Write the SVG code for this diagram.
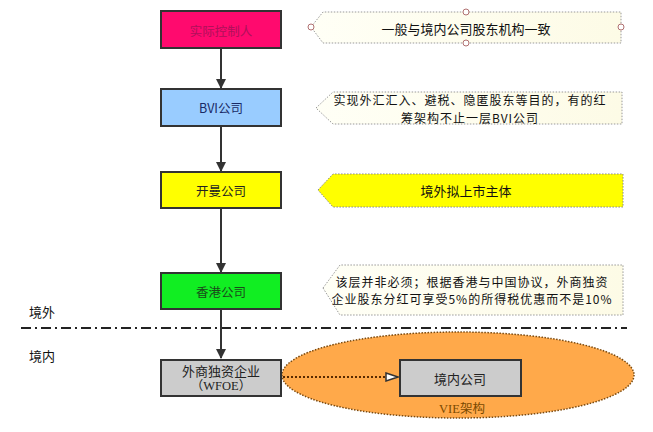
<svg xmlns="http://www.w3.org/2000/svg" width="653" height="432" viewBox="0 0 653 432">
<defs>
<style>
text{font-family:"Noto Sans CJK SC","Liberation Sans",sans-serif;font-size:12.5px;text-anchor:middle;dominant-baseline:central}
.ct{font-size:13px;fill:#111}
.ct2{font-size:12px;letter-spacing:1px;fill:#111}
.box{stroke:#333;stroke-width:2}
.call{fill:url(#cg);stroke:#999;stroke-width:1;stroke-dasharray:1.5 1.5}
.edge{stroke:#333;stroke-width:2;fill:none}
.handle{fill:#fff;stroke:#b07070;stroke-width:1}
</style>
<linearGradient id="cg" x1="0" y1="0" x2="1" y2="0">
<stop offset="0" stop-color="#fffff6"/><stop offset="1" stop-color="#fdfbe6"/>
</linearGradient>
<marker id="ah" markerWidth="10" markerHeight="10" refX="9" refY="5" orient="auto" markerUnits="userSpaceOnUse">
<path d="M0,0 L10,5 L0,10 Z" fill="#333"/>
</marker>
<marker id="ao" markerWidth="14" markerHeight="10" refX="13" refY="5" orient="auto" markerUnits="userSpaceOnUse">
<path d="M1,1 L13,5 L1,9 Z" fill="#fff" stroke="#333" stroke-width="1.5"/>
</marker>
</defs>
<rect width="653" height="432" fill="#fff"/>

<g id="vie">
<ellipse cx="458" cy="375" rx="176" ry="43" fill="#ffa94a" stroke="#7a4a10" stroke-width="1.5" stroke-dasharray="1.5 1.5"/>
<text x="462" y="409" fill="#7a4a00" style="font-family:'Liberation Serif','Noto Sans CJK SC',serif">VIE架构</text>
</g>

<g id="callouts">
<g id="c1">
<path class="call" d="M311,27 L323,12 L621,12 L621,43 L323,43 Z"/>
<circle class="handle" cx="311" cy="27" r="3"/>
<circle class="handle" cx="466" cy="12" r="3"/>
<circle class="handle" cx="466" cy="43" r="3"/>
<circle class="handle" cx="621" cy="27" r="3"/>
<text class="ct" x="466" y="28">一般与境内公司股东机构一致</text>
</g>
<g id="c2">
<path class="call" d="M316,108 L333,92 L622,92 L622,124 L333,124 Z"/>
<text class="ct2" x="470" y="99.5">实现外汇汇入、避税、隐匿股东等目的，有的红</text>
<text class="ct2" x="470" y="117">筹架构不止一层BVI公司</text>
</g>
<g id="c3">
<path d="M318,190 L333,174 L623,174 L623,207 L333,207 Z" fill="#ffff00" stroke="#888" stroke-width="1" stroke-dasharray="1.5 1.5"/>
<text class="ct" x="466" y="190">境外拟上市主体</text>
</g>
<g id="c4">
<path class="call" d="M323,288 L340,265 L623,265 L623,315 L340,315 Z"/>
<text class="ct2" x="472" y="281">该层并非必须；根据香港与中国协议，外商独资</text>
<text class="ct2" x="472" y="298.5">企业股东分红可享受5%的所得税优惠而不是10%</text>
</g>
</g>

<g id="border">
<line x1="21" y1="328" x2="627" y2="328" stroke="#222" stroke-width="2" stroke-dasharray="10 4 2 4"/>
<text class="ct" x="42" y="311">境外</text>
<text class="ct" x="42" y="355">境内</text>
</g>

<g id="connectors">
<line class="edge" x1="221" y1="48" x2="221" y2="88" marker-end="url(#ah)"/>
<line class="edge" x1="221" y1="126" x2="221" y2="171" marker-end="url(#ah)"/>
<line class="edge" x1="221" y1="208" x2="221" y2="272" marker-end="url(#ah)"/>
<line class="edge" x1="221" y1="309" x2="221" y2="358" marker-end="url(#ah)"/>
<line x1="283" y1="377" x2="398" y2="377" stroke="#5a2a00" stroke-width="2" stroke-dasharray="2 2" marker-end="url(#ao)"/>
</g>

<g id="n1">
<rect class="box" x="161" y="11" width="120" height="37" fill="#ff0a6e"/>
<text x="221" y="30" fill="#b0105a">实际控制人</text>
</g>
<g id="n2">
<rect class="box" x="161" y="89" width="120" height="37" fill="#99ccff"/>
<text x="221" y="107" fill="#1a2a66">BVI公司</text>
</g>
<g id="n3">
<rect class="box" x="161" y="172" width="120" height="36" fill="#ffff00"/>
<text x="221" y="190" fill="#222">开曼公司</text>
</g>
<g id="n4">
<rect class="box" x="161" y="273" width="120" height="36" fill="#11ee22"/>
<text x="221" y="291" fill="#1a4a1a">香港公司</text>
</g>
<g id="n5">
<rect class="box" x="161" y="360" width="120" height="36" fill="#cccccc"/>
<text x="221" y="370" fill="#222" style="font-size:13px">外商独资企业</text>
<text x="221" y="386" fill="#222" style="font-family:'Liberation Serif','Noto Sans CJK SC',serif">（WFOE）</text>
</g>
<g id="n6">
<rect class="box" x="400" y="360" width="121" height="36" fill="#cccccc"/>
<text x="460" y="378" fill="#222" style="font-size:13px">境内公司</text>
</g>
</svg>
